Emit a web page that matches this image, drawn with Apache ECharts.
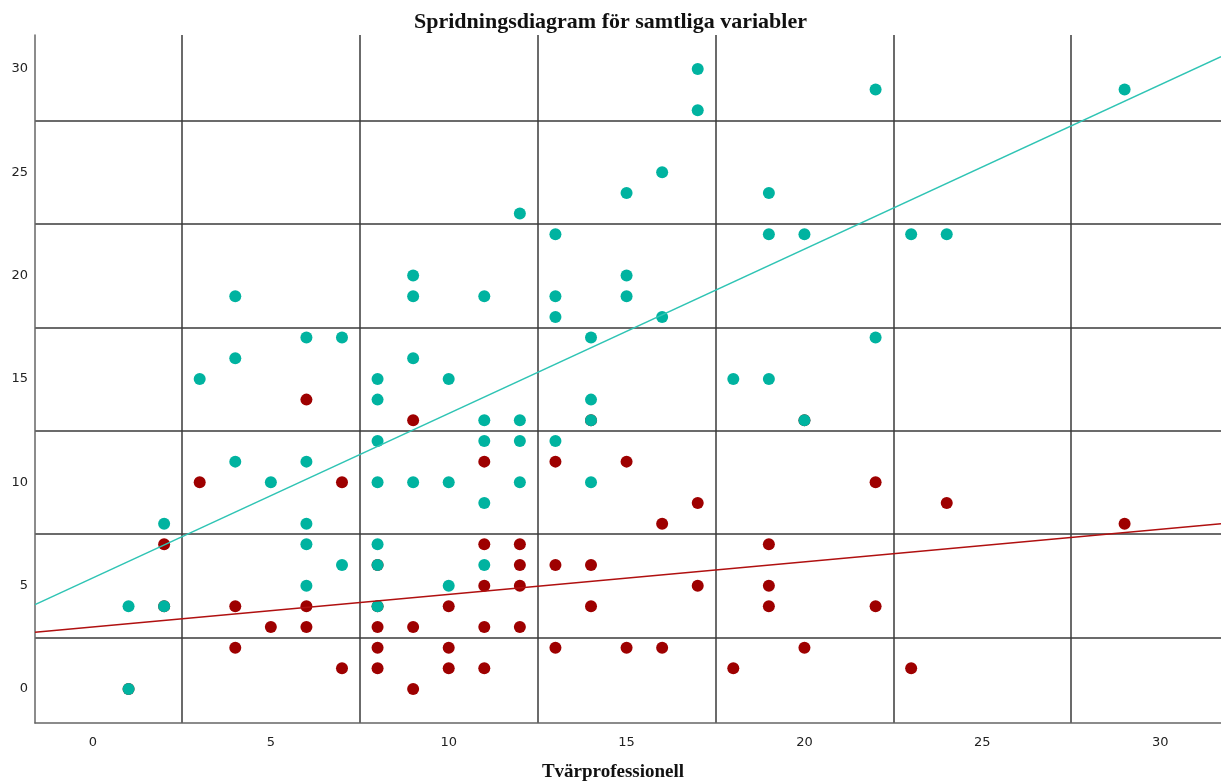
<!DOCTYPE html>
<html>
<head>
<meta charset="utf-8">
<script src="https://cdn.jsdelivr.net/npm/echarts@6/dist/echarts.min.js"></script>
<style>html,body{margin:0;padding:0;background:#fff}#c{width:1221px;height:782px}</style>
</head>
<body>
<div id="c"></div>
<script>
// ---- data ----
const chartTitle = 'Spridningsdiagram för samtliga variabler';
const xAxisTitle = 'Tvärprofessionell';
const xLabelValues = [0, 5, 10, 15, 20, 25, 30];
const yLabelValues = [0, 5, 10, 15, 20, 25, 30];
const gridValues = [2.5, 7.5, 12.5, 17.5, 22.5, 27.5];
const xRange = [-1.63, 31.71];
const yRange = [-1.645, 31.64];

const redPoints = [
  [1,0],[2,7],[2,4],[3,10],[4,4],[4,2],[5,3],[6,14],[6,4],[6,3],[7,10],[7,1],
  [8,6],[8,4],[8,3],[8,2],[8,1],[9,13],[9,3],[9,0],[10,4],[10,2],[10,1],
  [11,11],[11,7],[11,5],[11,3],[11,1],[12,7],[12,6],[12,5],[12,3],
  [13,11],[13,6],[13,2],[14,13],[14,6],[14,4],[15,11],[15,2],[16,8],[16,2],
  [17,9],[17,5],[18,1],[19,7],[19,5],[19,4],[20,13],[20,2],[22,10],[22,4],
  [23,1],[24,9],[29,8]
];
const tealPoints = [
  [1,0],[1,4],[2,8],[2,4],[3,15],[4,19],[4,16],[4,11],[5,10],
  [6,17],[6,11],[6,8],[6,7],[6,5],[7,17],[7,6],
  [8,15],[8,14],[8,12],[8,10],[8,7],[8,6],[8,4],
  [9,20],[9,19],[9,16],[9,10],[10,15],[10,10],[10,5],
  [11,19],[11,13],[11,12],[11,9],[11,6],[12,23],[12,13],[12,12],[12,10],
  [13,22],[13,19],[13,18],[13,12],[14,17],[14,14],[14,13],[14,10],
  [15,24],[15,20],[15,19],[16,25],[16,18],[17,30],[17,28],[18,15],
  [19,24],[19,22],[19,15],[20,22],[20,13],[22,29],[22,17],[23,22],[24,22],[29,29]
];
// fit-line end points (at the axis extremes)
const tealFitLine = [[-1.63, 4.08], [31.71, 30.59]];
const redFitLine = [[-1.63, 2.75], [31.71, 7.99]];

const teal = '#00b3a0';
const red = '#9e0000';
const gridColor = '#3a3a3a';

const chart = echarts.init(document.getElementById('c'));
chart.setOption({
  animation: false,
  backgroundColor: '#fff',
  title: {
    text: chartTitle,
    left: 'center',
    top: 6,
    textStyle: { fontFamily: 'Liberation Serif', fontWeight: 'bold', fontSize: 22, color: '#111' }
  },
  grid: { left: 35, right: 0, top: 35, bottom: 59, containLabel: false, outerBoundsMode: 'none' },
  xAxis: {
    type: 'value',
    min: xRange[0], max: xRange[1],
    name: xAxisTitle,
    nameLocation: 'middle',
    nameGap: 40,
    nameTextStyle: { fontFamily: 'Liberation Serif', fontWeight: 'bold', fontSize: 19, color: '#111', padding: [0, 30, 0, 0] },
    axisLine: { show: true, onZero: false, lineStyle: { color: '#666', width: 1.5 } },
    axisTick: { show: false, customValues: gridValues },
    axisLabel: { customValues: xLabelValues, fontFamily: 'DejaVu Sans', fontSize: 13, color: '#222', margin: 13 },
    splitLine: { show: true, lineStyle: { color: gridColor, width: 1.5 } }
  },
  yAxis: {
    type: 'value',
    min: yRange[0], max: yRange[1],
    axisLine: { show: true, onZero: false, lineStyle: { color: '#666', width: 1.5 } },
    axisTick: { show: false, customValues: gridValues },
    axisLabel: { customValues: yLabelValues, fontFamily: 'DejaVu Sans', fontSize: 13, color: '#222', margin: 7 },
    splitLine: { show: true, lineStyle: { color: gridColor, width: 1.5 } }
  },
  series: [
    { type: 'scatter', name: 'red', data: redPoints, symbolSize: 12, itemStyle: { color: red, opacity: 1 }, z: 2 },
    { type: 'scatter', name: 'teal', data: tealPoints, symbolSize: 12, itemStyle: { color: teal, opacity: 1 }, z: 3 },
    { type: 'line', data: tealFitLine, showSymbol: false, symbol: 'none', lineStyle: { color: '#2fc4b4', width: 1.5 }, z: 4 },
    { type: 'line', data: redFitLine, showSymbol: false, symbol: 'none', lineStyle: { color: '#b01010', width: 1.5 }, z: 4 }
  ]
});
</script>
</body>
</html>
